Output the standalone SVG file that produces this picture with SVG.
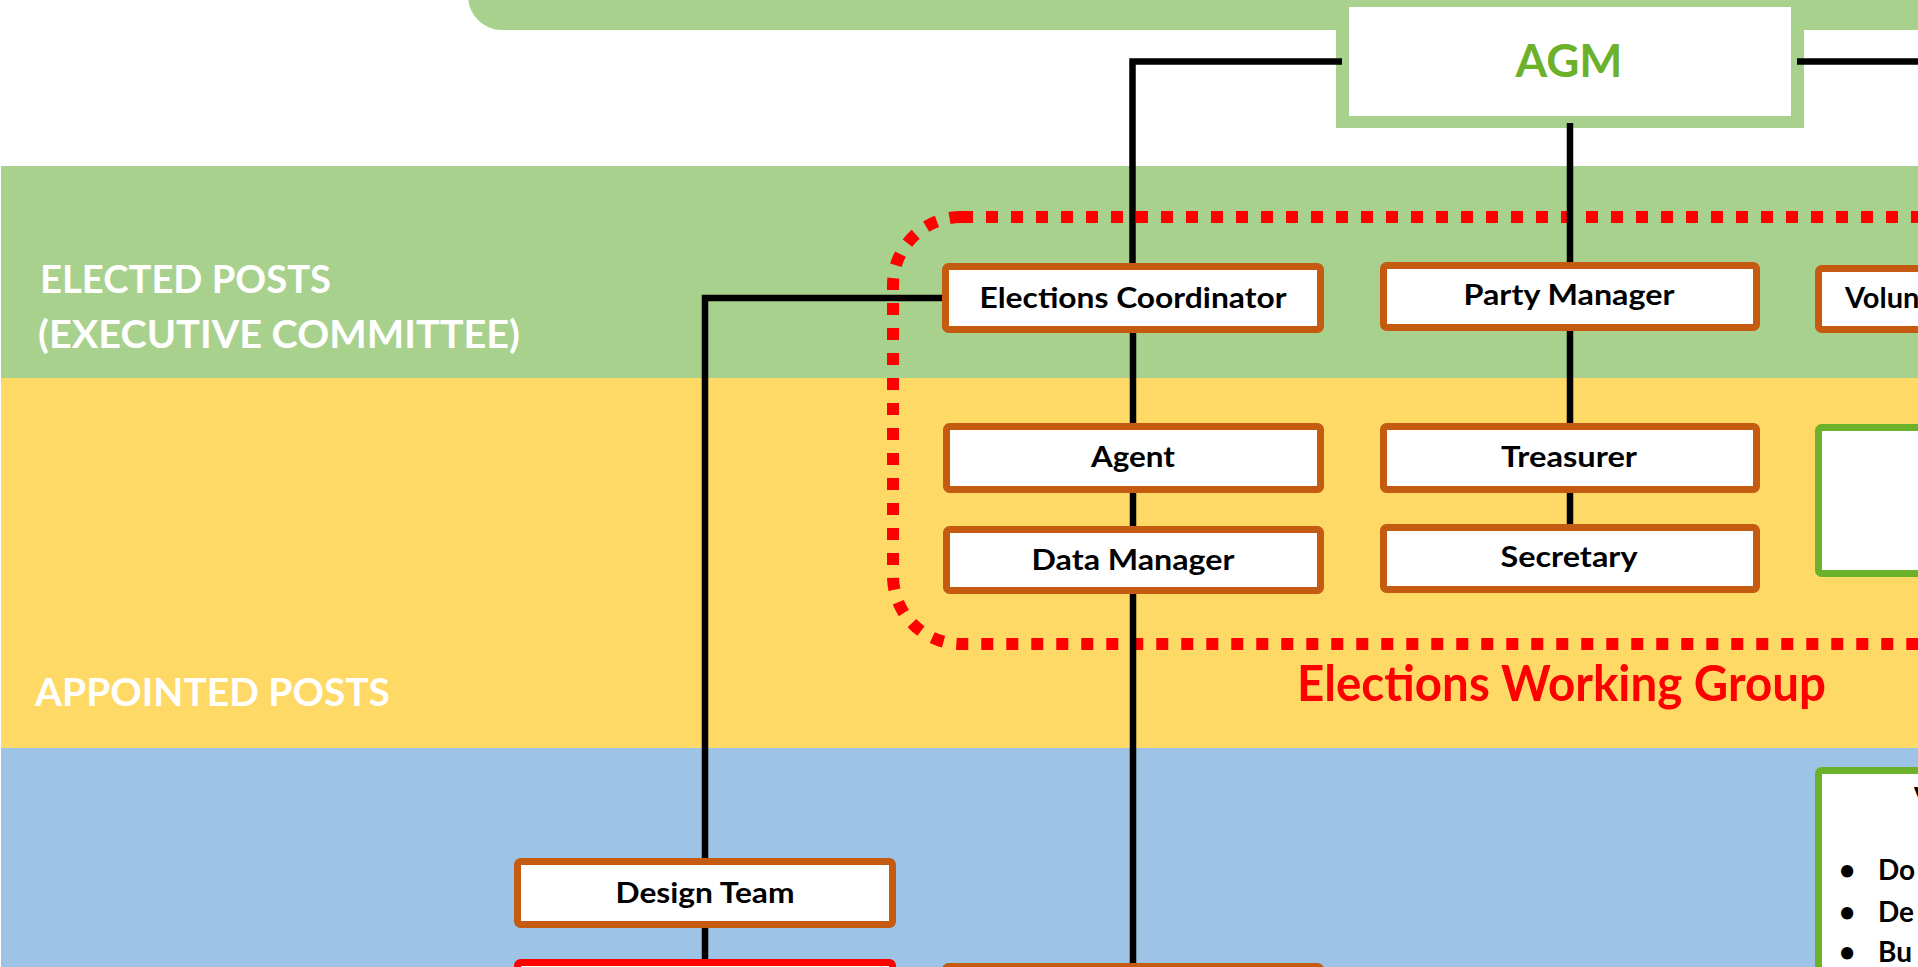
<svg xmlns="http://www.w3.org/2000/svg" width="1918" height="967" viewBox="0 0 1918 967">
<style>
.band-label{font-family:Lato,'Liberation Sans',sans-serif;font-weight:bold;font-size:39px;fill:#FFFFFF}
.lbl{font-family:Lato,'Liberation Sans',sans-serif;font-weight:bold;font-size:29px;fill:#000000;text-anchor:middle}
.obox{fill:#FFFFFF;stroke:#C55A11;stroke-width:7}
.gbox{fill:#FFFFFF;stroke:#6CB12A;stroke-width:7}
.rbox{fill:#FFFFFF;stroke:#FF0000;stroke-width:7}
.conn{fill:none;stroke:#000000;stroke-width:6.5;stroke-linejoin:miter}
.bul{font-family:Lato,'Liberation Sans',sans-serif;font-weight:bold;font-size:28px;fill:#000000}
</style>
<rect x="0" y="0" width="1918" height="967" fill="#FFFFFF"/>
<g id="bands">
<rect x="1" y="166" width="1917" height="212" fill="#A9D18E"/>
<rect x="1" y="378" width="1917" height="370" fill="#FFD966"/>
<rect x="1" y="748" width="1917" height="219" fill="#9DC3E6"/>
<rect x="468" y="-60" width="1500" height="90" rx="34" fill="#A9D18E"/>
<text class="band-label" x="40" y="293" textLength="291" lengthAdjust="spacingAndGlyphs">ELECTED POSTS</text>
<text class="band-label" x="38" y="348" textLength="482" lengthAdjust="spacingAndGlyphs">(EXECUTIVE COMMITTEE)</text>
<text class="band-label" x="35" y="706" textLength="355" lengthAdjust="spacingAndGlyphs">APPOINTED POSTS</text>
</g>
<g id="agm">
<rect x="1336" y="0" width="468" height="128" fill="#A9D18E"/>
<rect x="1349" y="7" width="442" height="109" fill="#FFFFFF"/>
<text x="1569" y="77" font-family="Lato,'Liberation Sans',sans-serif" font-weight="bold" font-size="45" fill="#6CB12A" text-anchor="middle" textLength="107" lengthAdjust="spacingAndGlyphs">AGM</text>
</g>
<g id="elections-working-group">
<rect x="893" y="217" width="1400" height="427" rx="68" fill="none" stroke="#FF0000" stroke-width="12" stroke-dasharray="12 13"/>
<text x="1297" y="701" font-family="Lato,'Liberation Sans',sans-serif" font-weight="bold" font-size="49" fill="#FF0000" textLength="529" lengthAdjust="spacingAndGlyphs">Elections Working Group</text>
</g>
<g id="connectors">
<path class="conn" d="M1342,61.5 H1132.5 V264"/>
<path class="conn" d="M1797,61.5 H1930"/>
<path class="conn" d="M1570,123 V263"/>
<path class="conn" d="M1133,332 V424"/>
<path class="conn" d="M1133,492 V527"/>
<path class="conn" d="M1133,593 V964"/>
<path class="conn" d="M1570,330 V424"/>
<path class="conn" d="M1570,492 V525"/>
<path class="conn" d="M943,298 H705 V859"/>
<path class="conn" d="M705,927 V960"/>
</g>
<g id="elections-coordinator">
<rect class="obox" x="945.5" y="266.5" width="375" height="63" rx="3"/>
<text class="lbl" x="1133" y="308" textLength="307" lengthAdjust="spacingAndGlyphs">Elections Coordinator</text>
</g>
<g id="party-manager">
<rect class="obox" x="1383.5" y="265.5" width="373" height="62" rx="3"/>
<text class="lbl" x="1569" y="305" textLength="211" lengthAdjust="spacingAndGlyphs">Party Manager</text>
</g>
<g id="volunteer-coordinator">
<rect class="obox" x="1818.5" y="268.5" width="375" height="61" rx="3"/>
<text class="lbl" x="1845" y="308" style="text-anchor:start">Volunteer Coordinator</text>
</g>
<g id="agent">
<rect class="obox" x="946.5" y="426.5" width="374" height="63" rx="3"/>
<text class="lbl" x="1133" y="467" textLength="84" lengthAdjust="spacingAndGlyphs">Agent</text>
</g>
<g id="data-manager">
<rect class="obox" x="946.5" y="529.5" width="374" height="61" rx="3"/>
<text class="lbl" x="1133" y="570" textLength="203" lengthAdjust="spacingAndGlyphs">Data Manager</text>
</g>
<g id="treasurer">
<rect class="obox" x="1383.5" y="426.5" width="373" height="63" rx="3"/>
<text class="lbl" x="1569" y="467" textLength="136" lengthAdjust="spacingAndGlyphs">Treasurer</text>
</g>
<g id="secretary">
<rect class="obox" x="1383.5" y="527.5" width="373" height="62" rx="3"/>
<text class="lbl" x="1569" y="567" textLength="137" lengthAdjust="spacingAndGlyphs">Secretary</text>
</g>
<g id="green-box-upper">
<rect class="gbox" x="1818.5" y="427.5" width="400" height="146" rx="3"/>
</g>
<g id="green-box-lower">
<rect class="gbox" x="1818.5" y="770.5" width="400" height="260" rx="3"/>
<text class="bul" x="1914" y="808">V</text>
<text class="bul" x="1839" y="880">•</text>
<text class="bul" x="1878" y="880">Do</text>
<text class="bul" x="1839" y="922">•</text>
<text class="bul" x="1878" y="922">De</text>
<text class="bul" x="1839" y="962">•</text>
<text class="bul" x="1878" y="962">Bu</text>
</g>
<g id="design-team">
<rect class="obox" x="517.5" y="861.5" width="375" height="63" rx="3"/>
<text class="lbl" x="705" y="903" textLength="179" lengthAdjust="spacingAndGlyphs">Design Team</text>
</g>
<g id="red-box">
<rect class="rbox" x="517.5" y="962.5" width="375" height="63" rx="3"/>
</g>
<g id="bottom-box">
<rect class="obox" x="945.5" y="966.5" width="375" height="63" rx="3"/>
</g>
</svg>
